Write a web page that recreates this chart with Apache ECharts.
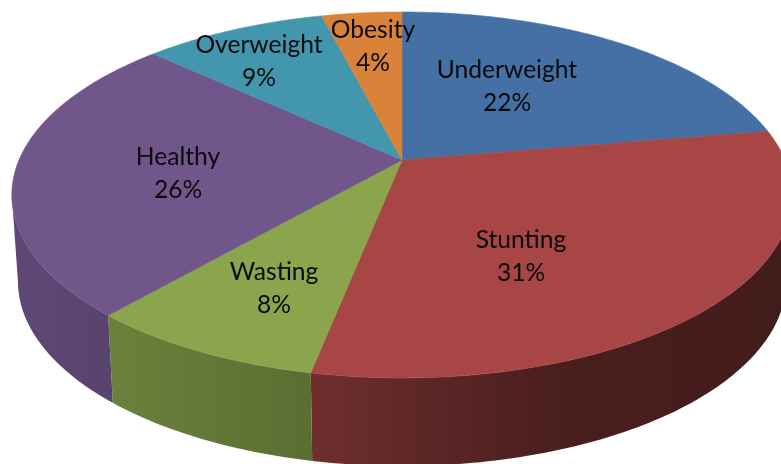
<!DOCTYPE html>
<html><head><meta charset="utf-8">
<style>html,body{margin:0;padding:0;background:#fff;overflow:hidden}#c{width:781px;height:464px}</style>
<script src="https://cdn.jsdelivr.net/npm/echarts@6/dist/echarts.min.js"></script>
</head><body><div id="c"></div>
<script>
const categories = ['Underweight','Stunting','Wasting','Healthy','Overweight','Obesity'];
const values = [22.3, 30.8, 8.3, 25.5, 9.1, 4.0];
const colors = ['#4470a6','#a84645','#8aa54b','#71568c','#4297ae','#d88339'];
// label centres in px (layout only)
const labelAt = [[507,87],[521,257],[274,289],[178,174],[259,62],[373,47]];
// perspective disc projection
const cx=402, topY=160, k=-0.191, topA=176.3, topC=383, botY=246, botA=178, botC=377;
const total = values.reduce((a,b)=>a+b,0);
const cum=[0]; values.forEach(v=>cum.push(cum[cum.length-1]+v));
const ang=i=>cum[i]/total*2*Math.PI;
// the wall is only visible between the two silhouette tangents of the disc
const frontMin=Math.acos(k), frontMax=2*Math.PI-Math.acos(k);
const proj=(t,y0,a,c)=>{const u=Math.sin(t),v=-Math.cos(t),w=1+k*v;return [cx+c*u/w,y0+a*v/w];};
function arc(t0,t1,y0,a,c){const p=[],n=Math.max(8,Math.ceil((t1-t0)*60));
  for(let j=0;j<=n;j++)p.push(proj(t0+(t1-t0)*j/n,y0,a,c));return p;}
function shade(hex,f){const n=parseInt(hex.slice(1),16);return 'rgb('+[(n>>16)&255,(n>>8)&255,n&255].map(x=>Math.round(x*f)).join(',')+')';}
function wallFill(i){return {type:'linear',global:true,x:15,y:0,x2:781,y2:0,colorStops:[
  {offset:0,color:shade(colors[i],.84)},{offset:.39,color:shade(colors[i],.66)},{offset:.7,color:shade(colors[i],.44)},{offset:1,color:shade(colors[i],.40)}]};}
const data=values.map((v,i)=>({name:categories[i],value:v}));
const chart=echarts.init(document.getElementById('c'),null,{renderer:'canvas'});
chart.setOption({animation:false,backgroundColor:'#fff',series:[
 {type:'custom',coordinateSystem:'none',silent:true,z:1,data,renderItem(p,api){const i=p.dataIndex;
   const t0=Math.max(ang(i),frontMin),t1=Math.min(ang(i+1),frontMax);
   if(t1<=t0)return {type:'group',children:[]};
   const pts=arc(t0,t1,topY,topA,topC).concat(arc(t0,t1,botY,botA,botC).reverse());
   return {type:'polygon',shape:{points:pts},style:{fill:wallFill(i)}};}},
 {type:'custom',coordinateSystem:'none',silent:true,z:2,data,renderItem(p,api){const i=p.dataIndex;
   const pts=[[cx,topY]].concat(arc(ang(i),ang(i+1),topY,topA,topC));
   return {type:'polygon',shape:{points:pts},style:{fill:colors[i],stroke:colors[i],lineWidth:.6}};}},
 {type:'custom',coordinateSystem:'none',silent:true,z:3,data,renderItem(p,api){const i=p.dataIndex;
   return {type:'text',x:labelAt[i][0],y:labelAt[i][1],style:{text:categories[i]+'\n'+Math.round(values[i])+'%',
     font:'24.6px Lato',lineHeight:33,fill:'#0a0a0a',align:'center',verticalAlign:'middle'}};}}
]});
</script></body></html>
